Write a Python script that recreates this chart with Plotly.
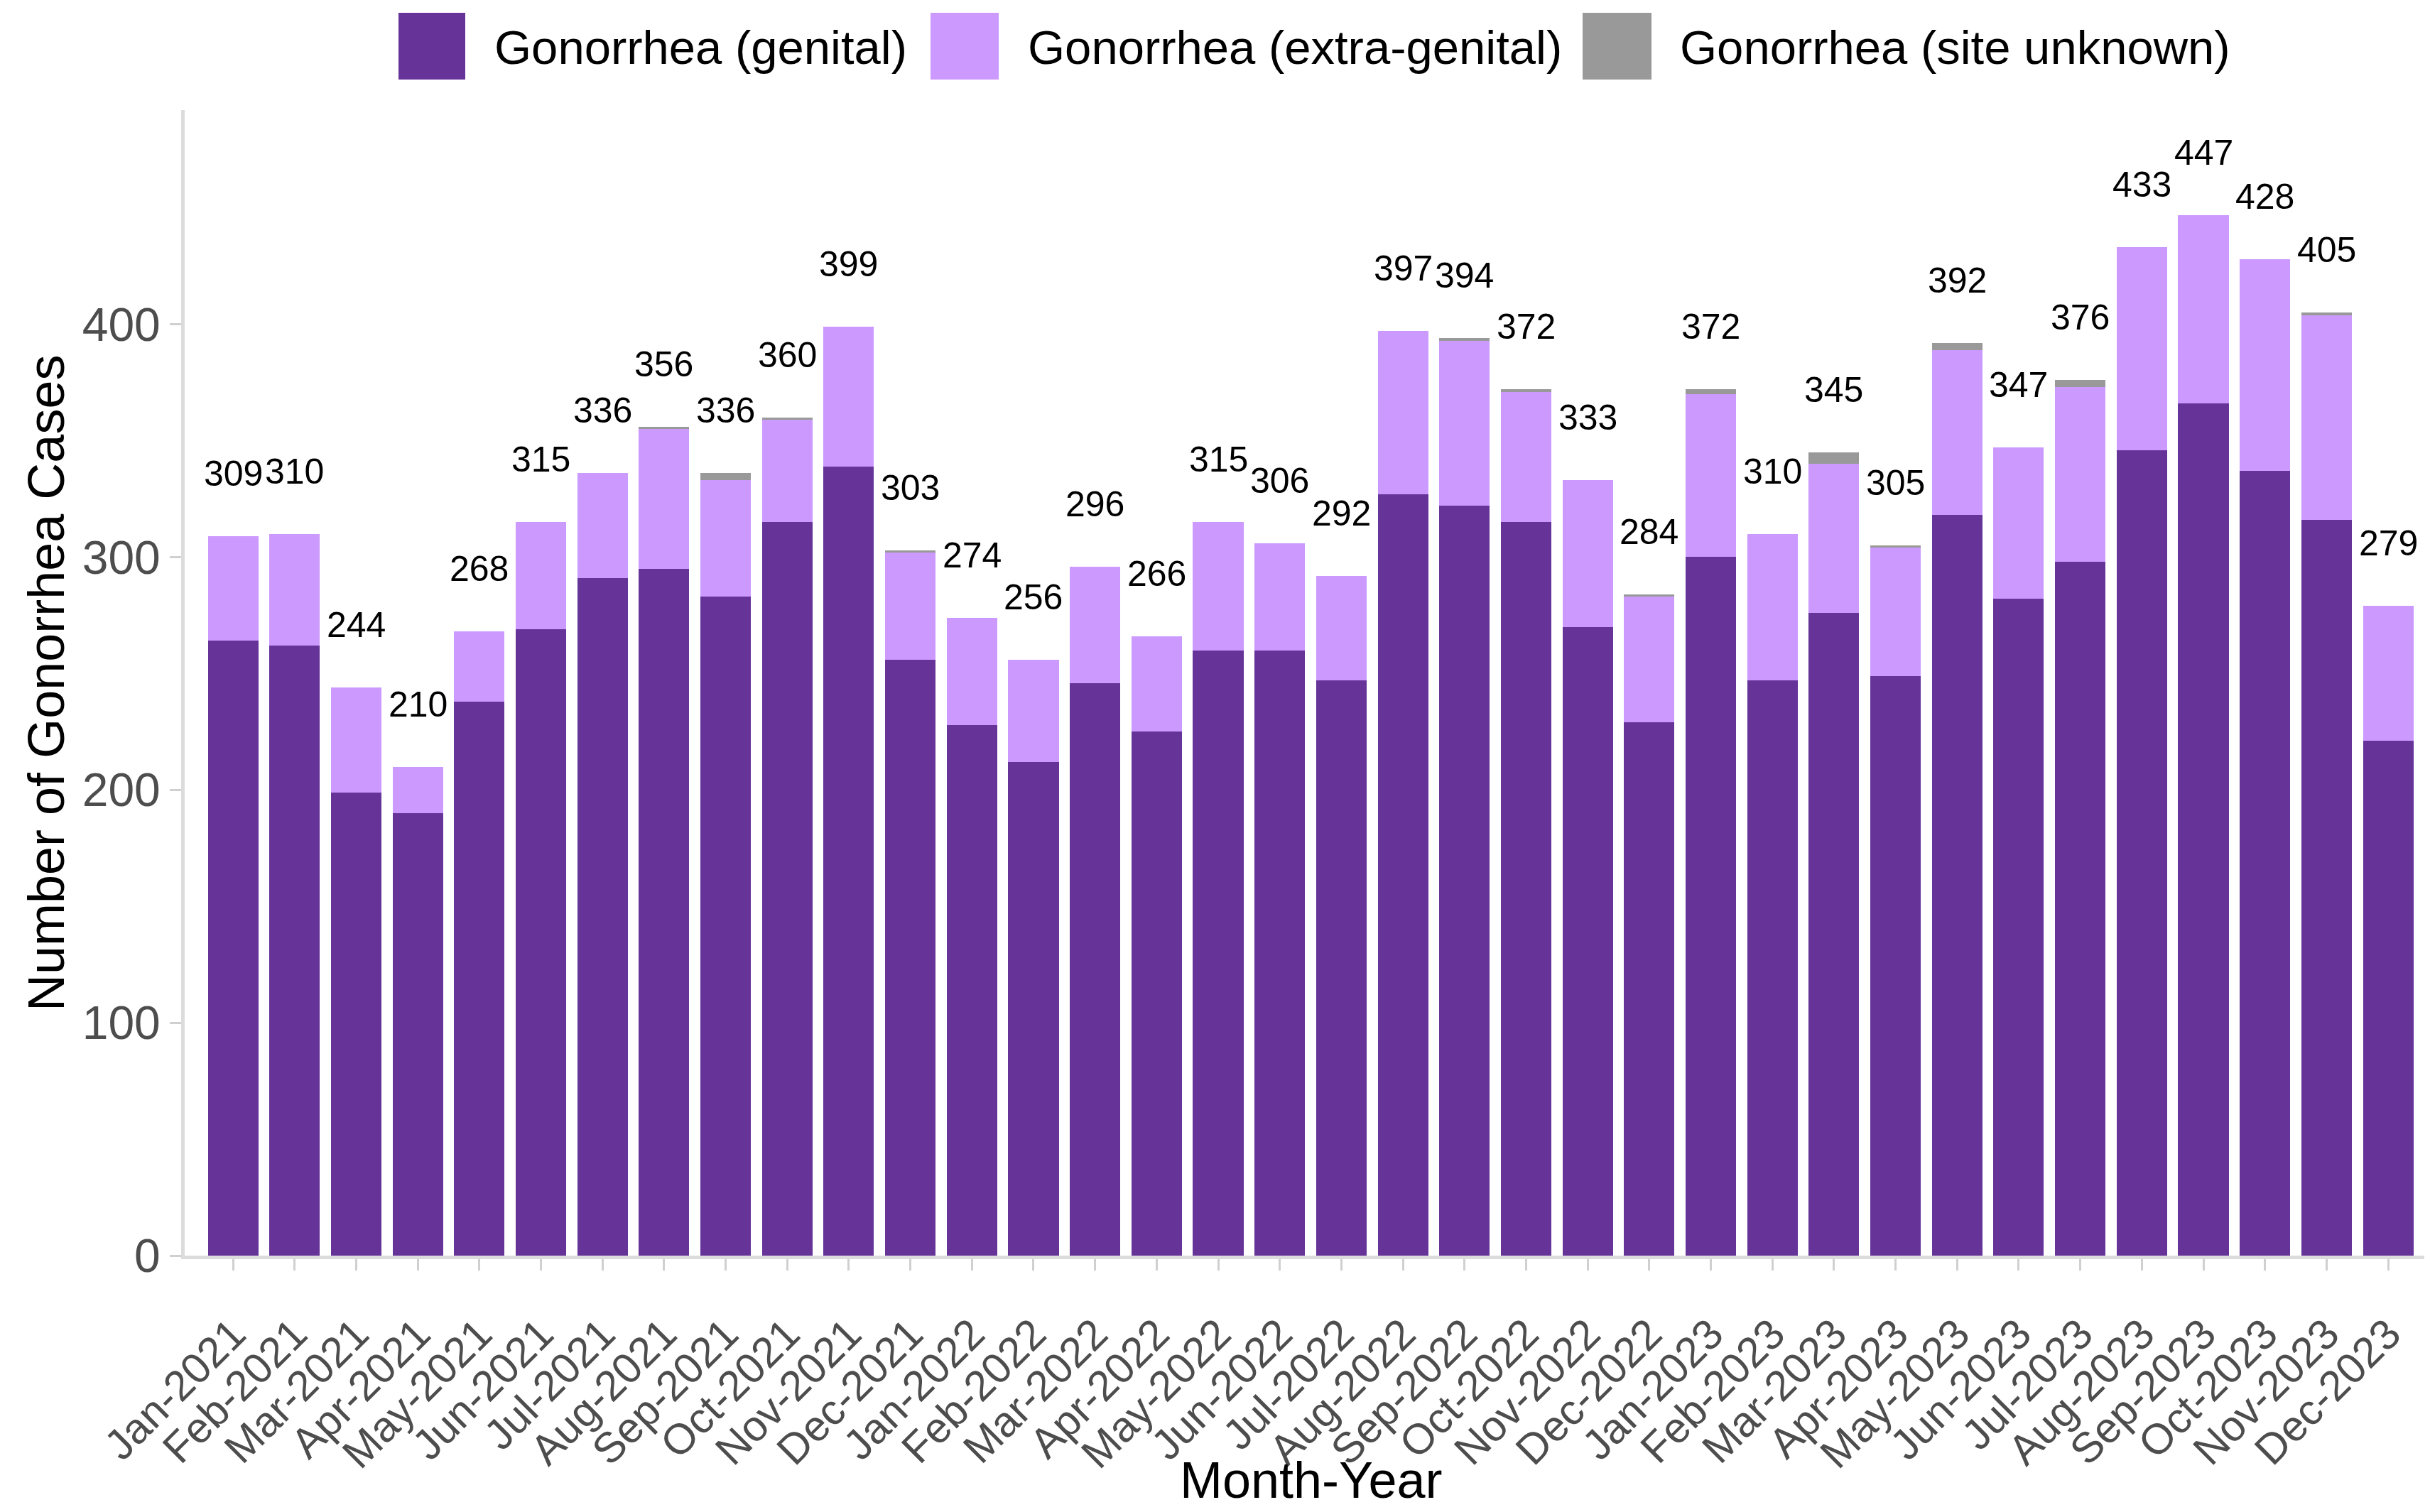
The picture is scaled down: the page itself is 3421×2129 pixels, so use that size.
import plotly.graph_objects as go

months = [
    "Jan-2021", "Feb-2021", "Mar-2021", "Apr-2021", "May-2021", "Jun-2021",
    "Jul-2021", "Aug-2021", "Sep-2021", "Oct-2021", "Nov-2021", "Dec-2021",
    "Jan-2022", "Feb-2022", "Mar-2022", "Apr-2022", "May-2022", "Jun-2022",
    "Jul-2022", "Aug-2022", "Sep-2022", "Oct-2022", "Nov-2022", "Dec-2022",
    "Jan-2023", "Feb-2023", "Mar-2023", "Apr-2023", "May-2023", "Jun-2023",
    "Jul-2023", "Aug-2023", "Sep-2023", "Oct-2023", "Nov-2023", "Dec-2023",
]
genital = [264, 262, 199, 190, 238, 269, 291, 295, 283, 315, 339, 256,
           228, 212, 246, 225, 260, 260, 247, 327, 322, 315, 270, 229,
           300, 247, 276, 249, 318, 282, 298, 346, 366, 337, 316, 221]
extra_genital = [45, 48, 45, 20, 30, 46, 45, 60, 50, 44, 60, 46,
                 46, 44, 50, 41, 55, 46, 45, 70, 71, 56, 63, 54,
                 70, 63, 64, 55, 71, 65, 75, 87, 81, 91, 88, 58]
site_unknown = [0, 0, 0, 0, 0, 0, 0, 1, 3, 1, 0, 1,
                0, 0, 0, 0, 0, 0, 0, 0, 1, 1, 0, 1,
                2, 0, 5, 1, 3, 0, 3, 0, 0, 0, 1, 0]
totals = [309, 310, 244, 210, 268, 315, 336, 356, 336, 360, 399, 303,
          274, 256, 296, 266, 315, 306, 292, 397, 394, 372, 333, 284,
          372, 310, 345, 305, 392, 347, 376, 433, 447, 428, 405, 279]

series = [
    ("Gonorrhea (genital)", genital, "#663399"),
    ("Gonorrhea (extra-genital)", extra_genital, "#cc99ff"),
    ("Gonorrhea (site unknown)", site_unknown, "#999999"),
]

# page offset of the plot div (browser body margin)
OFF = 8
W, H = 3421 - OFF, 2129 - OFF
# plot area in window pixels
L, R, T, B = 260, 3421, 155, 1768
FONT = "Liberation Sans, Arial, sans-serif"


def px_x(p):
    return (p - L) / (R - L)


def px_y(p):
    return (B - p) / (B - T)


fig = go.Figure()
for name, vals, col in series:
    fig.add_trace(go.Bar(
        x=months, y=vals, name=name,
        marker=dict(color=col, line=dict(width=0)),
        showlegend=False
    ))

# total labels above the stacks
for m, t in zip(months, totals):
    fig.add_annotation(x=m, y=t, text=str(t), showarrow=False,
                       yshift=88, font=dict(size=50, color="black", family=FONT))

# legend drawn by hand (big square keys)
keys = [(561, 655, 694), (1310, 1406, 1445), (2228, 2325, 2363)]
for (name, _, col), (k0, k1, tx) in zip(series, keys):
    fig.add_shape(type="rect", xref="paper", yref="paper",
                  x0=px_x(k0), x1=px_x(k1), y0=px_y(112), y1=px_y(18),
                  fillcolor=col, line=dict(width=0))
    fig.add_annotation(xref="paper", yref="paper", x=px_x(tx), y=px_y(66),
                       xanchor="left", yanchor="middle", showarrow=False,
                       text=name, font=dict(size=67, color="black", family=FONT))

# axis titles
fig.add_annotation(xref="paper", yref="paper", x=px_x(65), y=px_y(962),
                   text="Number of Gonorrhea Cases", textangle=-90, showarrow=False,
                   xanchor="center", yanchor="middle",
                   font=dict(size=72, color="black", family=FONT))
fig.add_annotation(xref="paper", yref="paper", x=px_x(1846), y=px_y(2084),
                   text="Month-Year", showarrow=False,
                   xanchor="center", yanchor="middle",
                   font=dict(size=72, color="black", family=FONT))

fig.update_layout(
    width=W, height=H,
    barmode="stack", bargap=0.18,
    plot_bgcolor="white", paper_bgcolor="white",
    margin=dict(l=L - OFF, r=W + OFF - R, t=T - OFF, b=H + OFF - B),
    font=dict(family=FONT),
    showlegend=False,
)
fig.update_xaxes(
    type="category", range=[-0.785, 35.68],
    tickangle=-45, tickfont=dict(size=60, color="#4d4d4d"),
    ticks="outside", ticklen=16, tickwidth=3, tickcolor="#d0d0d0",
    ticklabelstandoff=30,
    showline=True, linecolor="#dcdcdc", linewidth=5,
    showgrid=False, zeroline=False,
)
fig.update_yaxes(
    range=[0, 492], tickvals=[0, 100, 200, 300, 400],
    tickfont=dict(size=66, color="#4d4d4d"),
    ticks="outside", ticklen=16, tickwidth=3, tickcolor="#d0d0d0",
    showline=True, linecolor="#dcdcdc", linewidth=5,
    showgrid=False, zeroline=False,
)

fig.write_html("out.html")
